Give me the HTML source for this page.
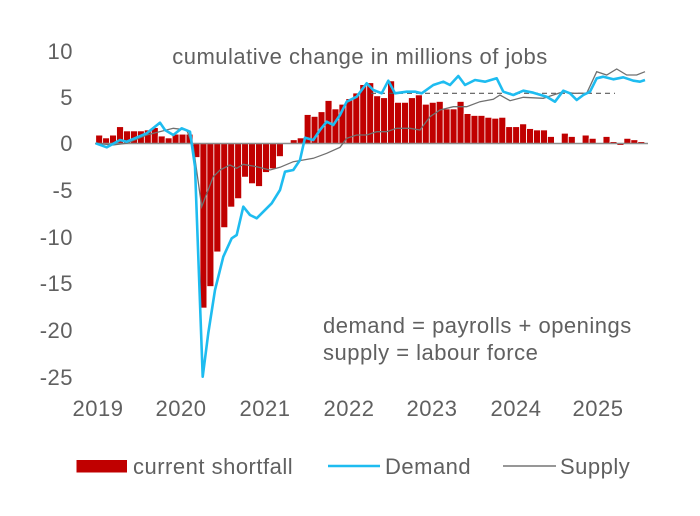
<!DOCTYPE html>
<html><head><meta charset="utf-8"><style>
html,body{margin:0;padding:0;background:#fff;}
svg text{font-family:"Liberation Sans",sans-serif;fill:#606060;font-size:22px;letter-spacing:0.5px;}
</style></head><body>
<svg width="700" height="511" viewBox="0 0 700 511" xmlns="http://www.w3.org/2000/svg">
<text x="360" y="64" text-anchor="middle">cumulative change in millions of jobs</text>
<g text-anchor="end">
<text x="73" y="59">10</text><text x="73" y="105">5</text><text x="73" y="151">0</text>
<text x="73" y="198">-5</text><text x="73" y="245">-10</text><text x="73" y="291">-15</text>
<text x="73" y="338">-20</text><text x="73" y="385">-25</text>
</g>
<g text-anchor="middle">
<text x="98" y="416">2019</text><text x="181" y="416">2020</text><text x="265" y="416">2021</text>
<text x="349" y="416">2022</text><text x="432" y="416">2023</text><text x="516" y="416">2024</text><text x="598" y="416">2025</text>
</g>
<g id="bars" fill="#c00000" stroke="#fff" stroke-width="0.8"></g>
<line x1="95" y1="143.5" x2="648" y2="143.5" stroke="#8c8c8c" stroke-width="1.5"/>
<line x1="371" y1="93.3" x2="615" y2="93.3" stroke="#595959" stroke-width="1.2" stroke-dasharray="5,4"/>
<polyline fill="none" stroke="#707070" stroke-width="1.3" points="95.7,143.3 113,145 126.7,143.3 146.7,135 173.3,128.3 186.7,130 193.3,146.7 201.7,206.7 213.3,176.7 220,170 230,165 236.7,168.3 243.3,164.3 256.7,166.7 270,170 280,167.3 293.3,161.7 313.3,158.3 326.7,153.3 340,147.3 346.7,138.3 356.7,135 366.7,135 376.7,131.7 386.7,131.7 396.7,128.3 410,128.3 420,130 430,116.7 440,110 453.3,106.7 466.7,106.7 480,101.7 493.3,99.3 500,95 510,100.7 523.3,97.3 543.3,98.3 553.3,95 563.3,91.7 573.3,93.3 586.7,93.3 596.7,71.7 606.7,75 616.7,69 626.7,75 636.7,75 645,71.7"/>
<polyline fill="none" stroke="#1ebcf0" stroke-width="2.6" stroke-linejoin="round" points="95.7,143.3 106.7,147.3 120,140 126.7,141.7 146.7,133.3 160,122.7 165,130 173.3,135 181.7,128.3 190,131.7 195,166.7 202.7,376.7 208.3,333 215,290 223.3,256.7 231.7,238.3 236.7,235 243.3,206.7 250,215 256.7,218.3 271.7,203.3 280,190 285,171.7 293.3,170 300,160 305,137.7 313.3,140 320,130 326.7,121.7 333.3,125 340,115 346.7,101.7 356.7,96.7 366.7,83.3 373.3,90 381.7,93.3 388.3,80.7 395,93.3 406.7,91.7 415,91.7 421.7,93.3 433.3,85 443.3,81.7 450,85 458.3,76 465,85 475,80 485,81.7 496.7,78.3 503.3,91.7 513.3,95 523.3,90.7 533.3,92.7 546.7,96.7 555,101.7 563.3,90.7 570,93.3 576.7,100 583.3,95 590,91.7 596.7,78.3 603.3,76.7 613.3,79.3 623.3,77.3 633.3,80.7 640,81.7 645,80"/>
<text x="323" y="333">demand = payrolls + openings</text>
<text x="323" y="360">supply = labour force</text>
<rect x="76.5" y="460" width="50.5" height="12.5" fill="#c00000"/>
<text x="133" y="474">current shortfall</text>
<line x1="328" y1="466" x2="380" y2="466" stroke="#1ebcf0" stroke-width="2.6"/>
<text x="385" y="474">Demand</text>
<line x1="503" y1="466" x2="556" y2="466" stroke="#595959" stroke-width="1.2"/>
<text x="560" y="474">Supply</text>
</svg>
<script>
var v=[0.9,0.6,0.9,1.8,1.35,1.35,1.35,1.45,1.7,0.8,0.6,1.0,1.0,1.0,-1.5,-17.6,-15.3,-11.6,-9,-6.8,-5.9,-3.6,-4.3,-4.6,-3.1,-2.7,-1.4,0.1,0.4,0.6,3.1,2.9,3.4,4.6,3.7,4.2,4.8,5.4,6.3,6.5,5.1,4.9,6.7,4.4,4.4,4.9,5.2,4.2,4.4,4.5,3.7,3.7,4.5,3.2,3.0,3.0,2.8,2.7,2.8,1.8,1.8,2.1,1.6,1.45,1.45,0.75,0,1.1,0.75,0,0.9,0.55,0,0.75,0.2,-0.2,0.55,0.4,0.2];
var g=document.getElementById('bars'),s='',z=143.5,k=9.35,w=6.95;
for(var i=0;i<v.length;i++){if(!v[i])continue;var h=Math.abs(v[i])*k,y=v[i]>0?z-h:z;
s+='<rect x="'+(95.7+w*i).toFixed(2)+'" y="'+y.toFixed(2)+'" width="'+w+'" height="'+h.toFixed(2)+'"/>';}
g.innerHTML=s;
</script>
</body></html>
